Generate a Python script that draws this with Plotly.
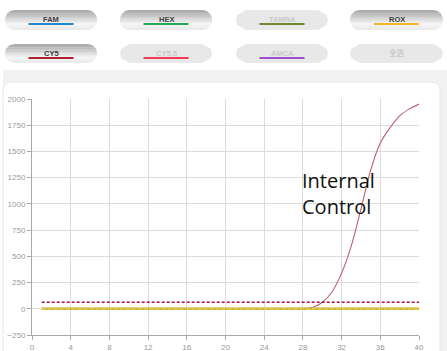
import plotly.graph_objects as go
import math

# ---------------- data ----------------
cycles = list(range(1, 41))
cy5_values = [0]*27 + [2, 15, 60, 160, 340, 600, 950, 1320, 1580, 1725, 1840, 1905, 1952]
baseline_values = [0]*40
cy5_threshold = [62]*40
rox_threshold = [0]*40

channel_names = ["FAM", "HEX", "TAMRA", "ROX", "CY5", "CY5.5", "AMCA", "全选"]
channel_colors = ["#1e88d0", "#22aa55", "#6e8a2a", "#f5b52a", "#b52030", "#f03c5a", "#9a4fd0", None]
channel_active = [True, True, False, True, True, False, False, False]

x_ticks = list(range(0, 41, 4))
y_ticks = list(range(-250, 2001, 250))

# ---------------- layout geometry (pixels) ----------------
W, H = 447, 351
L, R, T, B = 32, 419, 99, 335


def px(x):
    return (x - L) / (R - L)


def py(y):
    return (B - y) / (B - T)


shapes = []
annotations = []

# background grey band and white card
shapes.append(dict(type="rect", xref="paper", yref="paper", x0=px(3), x1=px(447), y0=py(351), y1=py(70),
                   fillcolor="#f1f1f1", line=dict(width=0), layer="below"))


def rounded_rect_path(x0, y0, x1, y1, r):
    pts = []
    n = 8
    for i in range(n + 1):
        a = -math.pi / 2 + (math.pi / 2) * i / n
        pts.append((x1 - r + r * math.cos(a), y0 + r + r * math.sin(a)))
    pts.append((x1, y1))
    pts.append((x0, y1))
    for i in range(n + 1):
        a = math.pi + (math.pi / 2) * i / n
        pts.append((x0 + r + r * math.cos(a), y0 + r + r * math.sin(a)))
    return "M " + " L ".join(f"{px(a):.5f},{py(b):.5f}" for a, b in pts) + " Z"


shapes.append(dict(type="path", xref="paper", yref="paper", path=rounded_rect_path(3, 82, 440, 360, 8),
                   fillcolor="#ffffff", line=dict(color="#e6e6e6", width=1), layer="below"))


def pill_strip(x0, x1, yt, yb, ya, yb2, r):
    cy = (yt + yb) / 2
    ry = (yb - yt) / 2
    steps = 4
    left, right = [], []
    for i in range(steps + 1):
        y = ya + (yb2 - ya) * i / steps
        d = max(0.0, 1 - ((y - cy) / ry) ** 2)
        off = r - r * math.sqrt(d)
        left.append((x0 + off, y))
        right.append((x1 - off, y))
    pts = left + right[::-1]
    return "M " + " L ".join(f"{px(a):.5f},{py(b):.5f}" for a, b in pts) + " Z"


cols = [(5, 97), (120, 212), (236, 328), (350, 443)]
rows = [(10, 30), (44, 63)]
for idx, name in enumerate(channel_names):
    rr, cc = divmod(idx, 4)
    x0, x1 = cols[cc]
    yt, yb = rows[rr]
    r = 10
    if channel_active[idx]:
        nstr = 12
        for s in range(nstr):
            ya = yt + (yb - yt) * s / nstr
            yb2 = yt + (yb - yt) * (s + 1) / nstr + 0.3
            t = (s + 0.5) / nstr
            if t < 0.7:
                g = int(165 + (246 - 165) * (t / 0.7))
            else:
                g = int(246 - (246 - 232) * ((t - 0.7) / 0.3))
            col = f"rgb({g},{g},{g})"
            shapes.append(dict(type="path", xref="paper", yref="paper",
                               path=pill_strip(x0, x1, yt, yb, ya, min(yb2, yb), r),
                               fillcolor=col, line=dict(width=0), layer="below"))
        tcol = "#3e3e3e"
    else:
        shapes.append(dict(type="path", xref="paper", yref="paper",
                           path=pill_strip(x0, x1, yt, yb, yt, yb, r),
                           fillcolor="#e8e8e8", line=dict(width=0), layer="below"))
        tcol = "#c9c9c9"
    cx = (x0 + x1) / 2
    ty = yt + 9
    annotations.append(dict(x=px(cx), y=py(ty), xref="paper", yref="paper", text=f"<b>{name}</b>",
                            showarrow=False, xanchor="center", yanchor="middle",
                            font=dict(family="Liberation Sans, Noto Sans CJK SC", size=7.5, color=tcol)))
    if channel_colors[idx]:
        uy = yt + 14
        shapes.append(dict(type="line", xref="paper", yref="paper", x0=px(cx - 22.5), x1=px(cx + 22.5),
                           y0=py(uy), y1=py(uy), line=dict(color=channel_colors[idx], width=1.8)))

# Internal Control text (one block, two lines)
annotations.append(dict(x=px(301), y=py(193), xref="paper", yref="paper", text="Internal<br>Control",
                        showarrow=False, xanchor="left", yanchor="middle", align="left", borderpad=0,
                        font=dict(family="Open Sans", size=20, color="#111111")))

fig = go.Figure()
fig.add_trace(go.Scatter(x=cycles, y=cy5_values, mode="lines", line_shape="spline",
                         line=dict(color="#bd6070", width=1.1, smoothing=1.0), hoverinfo="skip", showlegend=False))
fig.add_trace(go.Scatter(x=cycles, y=baseline_values, mode="lines",
                         line=dict(color="#bdb552", width=2.6), hoverinfo="skip", showlegend=False))
fig.add_trace(go.Scatter(x=cycles, y=rox_threshold, mode="lines",
                         line=dict(color="#e2c446", width=2.6, dash="4px,2px"), hoverinfo="skip", showlegend=False))
fig.add_trace(go.Scatter(x=cycles, y=cy5_threshold, mode="lines",
                         line=dict(color="#a8173a", width=1.3, dash="3px,2px"), hoverinfo="skip", showlegend=False))

axis_common = dict(showgrid=True, gridcolor="#dcdcdc", gridwidth=1, zeroline=False, showline=True,
                   linecolor="#a8a8a8", linewidth=1, ticks="outside", ticklen=4, tickcolor="#a8a8a8",
                   automargin=False,
                   tickfont=dict(family="Liberation Sans", size=8, color="#9a9a9a"))

fig.update_layout(
    width=W, height=H, autosize=False,
    margin=dict(l=L, r=W - R, t=T, b=H - B, pad=0),
    paper_bgcolor="#ffffff", plot_bgcolor="rgba(0,0,0,0)",
    xaxis=dict(range=[0, 40], tickvals=x_ticks, **axis_common),
    yaxis=dict(range=[-250, 2000], tickvals=y_ticks, **axis_common),
    shapes=shapes, annotations=annotations, showlegend=False,
)

fig.write_html("out.html", config={"displayModeBar": False},
               post_script="document.body.style.margin='0';document.body.style.overflow='hidden';")
